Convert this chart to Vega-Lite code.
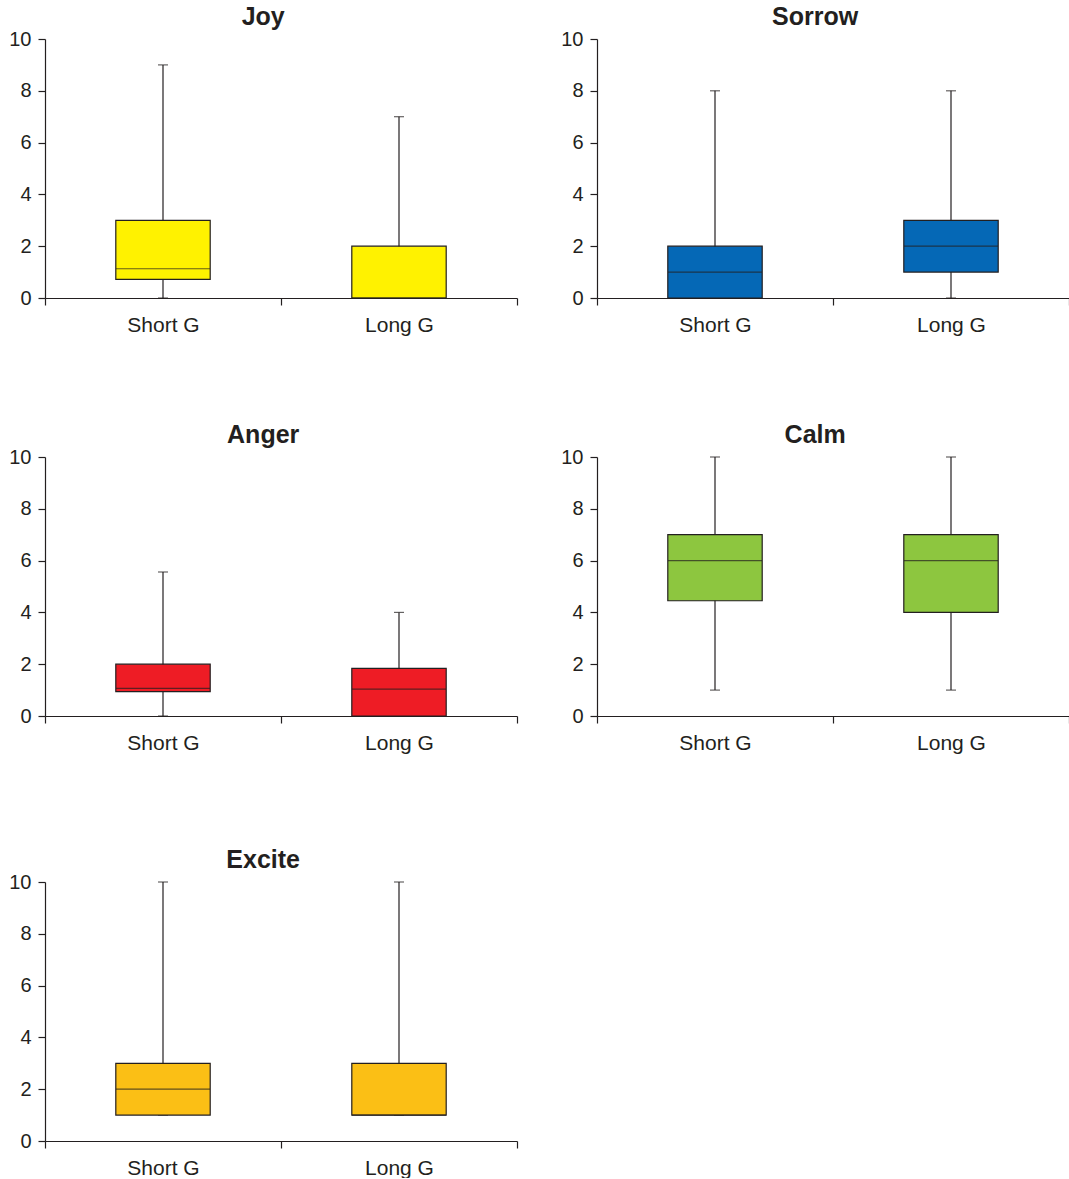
{
  "$schema": "https://vega.github.io/schema/vega-lite/v6.json",
  "padding": {"left": 8, "top": 5, "right": 0, "bottom": 0},
  "background": "white",
  "datasets": {
    "box": [
      {"emotion": "Joy", "group": "Short G", "min": 0, "q1": 0.72, "median": 1.13, "q3": 3, "max": 9},
      {"emotion": "Joy", "group": "Long G", "min": 0, "q1": 0, "median": 0, "q3": 2, "max": 7},
      {"emotion": "Sorrow", "group": "Short G", "min": 0, "q1": 0, "median": 1, "q3": 2, "max": 8},
      {"emotion": "Sorrow", "group": "Long G", "min": 0, "q1": 1, "median": 2, "q3": 3, "max": 8},
      {"emotion": "Anger", "group": "Short G", "min": 0, "q1": 0.94, "median": 1.07, "q3": 2, "max": 5.56},
      {"emotion": "Anger", "group": "Long G", "min": 0, "q1": 0, "median": 1.04, "q3": 1.84, "max": 4},
      {"emotion": "Calm", "group": "Short G", "min": 1, "q1": 4.45, "median": 6, "q3": 7, "max": 10},
      {"emotion": "Calm", "group": "Long G", "min": 1, "q1": 4, "median": 6, "q3": 7, "max": 10},
      {"emotion": "Excite", "group": "Short G", "min": 1, "q1": 1, "median": 2, "q3": 3, "max": 10},
      {"emotion": "Excite", "group": "Long G", "min": 1, "q1": 1, "median": 1, "q3": 3, "max": 10}
    ]
  },
  "vconcat": [
    {
      "vconcat": [
        {
          "hconcat": [
            {
              "data": {"name": "box"}, "transform": [{"filter": "datum.emotion === 'Joy'"}],
              "title": "Joy", "width": 472, "height": 259,
              "encoding": {
                "x": {"field": "group", "type": "nominal", "sort": ["Short G", "Long G"], "scale": {"paddingInner": 0, "paddingOuter": 0}, "axis": {"title": null, "labelAngle": 0, "tickBand": "extent"}}
              },
              "layer": [
                {"mark": {"type": "rule", "color": "#231F20", "strokeWidth": 1.2}, "encoding": {"y": {"field": "min", "type": "quantitative", "scale": {"domain": [0, 10], "nice": false}, "axis": {"title": null, "values": [0, 2, 4, 6, 8, 10]}}, "y2": {"field": "max"}}},
                {"mark": {"type": "tick", "color": "#231F20", "size": 10, "thickness": 1.2}, "encoding": {"y": {"field": "max", "type": "quantitative"}}},
                {"mark": {"type": "tick", "color": "#231F20", "size": 10, "thickness": 1.2}, "encoding": {"y": {"field": "min", "type": "quantitative"}}},
                {"mark": {"type": "bar", "stroke": "#231F20", "strokeWidth": 1.2, "width": {"band": 0.4}}, "encoding": {"y": {"field": "q1", "type": "quantitative"}, "y2": {"field": "q3"}, "color": {"field": "emotion", "type": "nominal", "scale": {"domain": ["Joy", "Sorrow", "Anger", "Calm", "Excite"], "range": ["#FFF200", "#0568B6", "#EE1C25", "#8DC63F", "#FBBF15"]}, "legend": null}}},
                {"mark": {"type": "tick", "color": "#231F20", "size": 94, "thickness": 1.2}, "encoding": {"y": {"field": "median", "type": "quantitative"}}}
              ]
            },
            {
              "data": {"name": "box"}, "transform": [{"filter": "datum.emotion === 'Sorrow'"}],
              "title": "Sorrow", "width": 472, "height": 259,
              "encoding": {
                "x": {"field": "group", "type": "nominal", "sort": ["Short G", "Long G"], "scale": {"paddingInner": 0, "paddingOuter": 0}, "axis": {"title": null, "labelAngle": 0, "tickBand": "extent"}}
              },
              "layer": [
                {"mark": {"type": "rule", "color": "#231F20", "strokeWidth": 1.2}, "encoding": {"y": {"field": "min", "type": "quantitative", "scale": {"domain": [0, 10], "nice": false}, "axis": {"title": null, "values": [0, 2, 4, 6, 8, 10]}}, "y2": {"field": "max"}}},
                {"mark": {"type": "tick", "color": "#231F20", "size": 10, "thickness": 1.2}, "encoding": {"y": {"field": "max", "type": "quantitative"}}},
                {"mark": {"type": "tick", "color": "#231F20", "size": 10, "thickness": 1.2}, "encoding": {"y": {"field": "min", "type": "quantitative"}}},
                {"mark": {"type": "bar", "stroke": "#231F20", "strokeWidth": 1.2, "width": {"band": 0.4}}, "encoding": {"y": {"field": "q1", "type": "quantitative"}, "y2": {"field": "q3"}, "color": {"field": "emotion", "type": "nominal", "scale": {"domain": ["Joy", "Sorrow", "Anger", "Calm", "Excite"], "range": ["#FFF200", "#0568B6", "#EE1C25", "#8DC63F", "#FBBF15"]}, "legend": null}}},
                {"mark": {"type": "tick", "color": "#231F20", "size": 94, "thickness": 1.2}, "encoding": {"y": {"field": "median", "type": "quantitative"}}}
              ]
            }
          ],
          "spacing": 42
        },
        {
          "hconcat": [
            {
              "data": {"name": "box"}, "transform": [{"filter": "datum.emotion === 'Anger'"}],
              "title": "Anger", "width": 472, "height": 259,
              "encoding": {
                "x": {"field": "group", "type": "nominal", "sort": ["Short G", "Long G"], "scale": {"paddingInner": 0, "paddingOuter": 0}, "axis": {"title": null, "labelAngle": 0, "tickBand": "extent"}}
              },
              "layer": [
                {"mark": {"type": "rule", "color": "#231F20", "strokeWidth": 1.2}, "encoding": {"y": {"field": "min", "type": "quantitative", "scale": {"domain": [0, 10], "nice": false}, "axis": {"title": null, "values": [0, 2, 4, 6, 8, 10]}}, "y2": {"field": "max"}}},
                {"mark": {"type": "tick", "color": "#231F20", "size": 10, "thickness": 1.2}, "encoding": {"y": {"field": "max", "type": "quantitative"}}},
                {"mark": {"type": "tick", "color": "#231F20", "size": 10, "thickness": 1.2}, "encoding": {"y": {"field": "min", "type": "quantitative"}}},
                {"mark": {"type": "bar", "stroke": "#231F20", "strokeWidth": 1.2, "width": {"band": 0.4}}, "encoding": {"y": {"field": "q1", "type": "quantitative"}, "y2": {"field": "q3"}, "color": {"field": "emotion", "type": "nominal", "scale": {"domain": ["Joy", "Sorrow", "Anger", "Calm", "Excite"], "range": ["#FFF200", "#0568B6", "#EE1C25", "#8DC63F", "#FBBF15"]}, "legend": null}}},
                {"mark": {"type": "tick", "color": "#231F20", "size": 94, "thickness": 1.2}, "encoding": {"y": {"field": "median", "type": "quantitative"}}}
              ]
            },
            {
              "data": {"name": "box"}, "transform": [{"filter": "datum.emotion === 'Calm'"}],
              "title": "Calm", "width": 472, "height": 259,
              "encoding": {
                "x": {"field": "group", "type": "nominal", "sort": ["Short G", "Long G"], "scale": {"paddingInner": 0, "paddingOuter": 0}, "axis": {"title": null, "labelAngle": 0, "tickBand": "extent"}}
              },
              "layer": [
                {"mark": {"type": "rule", "color": "#231F20", "strokeWidth": 1.2}, "encoding": {"y": {"field": "min", "type": "quantitative", "scale": {"domain": [0, 10], "nice": false}, "axis": {"title": null, "values": [0, 2, 4, 6, 8, 10]}}, "y2": {"field": "max"}}},
                {"mark": {"type": "tick", "color": "#231F20", "size": 10, "thickness": 1.2}, "encoding": {"y": {"field": "max", "type": "quantitative"}}},
                {"mark": {"type": "tick", "color": "#231F20", "size": 10, "thickness": 1.2}, "encoding": {"y": {"field": "min", "type": "quantitative"}}},
                {"mark": {"type": "bar", "stroke": "#231F20", "strokeWidth": 1.2, "width": {"band": 0.4}}, "encoding": {"y": {"field": "q1", "type": "quantitative"}, "y2": {"field": "q3"}, "color": {"field": "emotion", "type": "nominal", "scale": {"domain": ["Joy", "Sorrow", "Anger", "Calm", "Excite"], "range": ["#FFF200", "#0568B6", "#EE1C25", "#8DC63F", "#FBBF15"]}, "legend": null}}},
                {"mark": {"type": "tick", "color": "#231F20", "size": 94, "thickness": 1.2}, "encoding": {"y": {"field": "median", "type": "quantitative"}}}
              ]
            }
          ],
          "spacing": 42
        }
      ],
      "spacing": 88
    },
    {
      "data": {"name": "box"}, "transform": [{"filter": "datum.emotion === 'Excite'"}],
      "title": "Excite", "width": 472, "height": 259,
      "encoding": {
        "x": {"field": "group", "type": "nominal", "sort": ["Short G", "Long G"], "scale": {"paddingInner": 0, "paddingOuter": 0}, "axis": {"title": null, "labelAngle": 0, "tickBand": "extent"}}
      },
      "layer": [
        {"mark": {"type": "rule", "color": "#231F20", "strokeWidth": 1.2}, "encoding": {"y": {"field": "min", "type": "quantitative", "scale": {"domain": [0, 10], "nice": false}, "axis": {"title": null, "values": [0, 2, 4, 6, 8, 10]}}, "y2": {"field": "max"}}},
        {"mark": {"type": "tick", "color": "#231F20", "size": 10, "thickness": 1.2}, "encoding": {"y": {"field": "max", "type": "quantitative"}}},
        {"mark": {"type": "tick", "color": "#231F20", "size": 10, "thickness": 1.2}, "encoding": {"y": {"field": "min", "type": "quantitative"}}},
        {"mark": {"type": "bar", "stroke": "#231F20", "strokeWidth": 1.2, "width": {"band": 0.4}}, "encoding": {"y": {"field": "q1", "type": "quantitative"}, "y2": {"field": "q3"}, "color": {"field": "emotion", "type": "nominal", "scale": {"domain": ["Joy", "Sorrow", "Anger", "Calm", "Excite"], "range": ["#FFF200", "#0568B6", "#EE1C25", "#8DC63F", "#FBBF15"]}, "legend": null}}},
        {"mark": {"type": "tick", "color": "#231F20", "size": 94, "thickness": 1.2}, "encoding": {"y": {"field": "median", "type": "quantitative"}}}
      ]
    }
  ],
  "spacing": 95,
  "config": {
    "font": "Liberation Sans",
    "view": {"stroke": null},
    "title": {"fontSize": 25, "fontWeight": "bold", "color": "#231F20", "offset": -1, "anchor": "middle", "frame": "bounds"},
    "axis": {
      "labelFont": "Liberation Sans", "labelColor": "#231F20", "domainColor": "#231F20", "tickColor": "#231F20",
      "tickSize": 7, "grid": false, "domainWidth": 1.2, "tickWidth": 1.2
    },
    "axisX": {"labelFontSize": 21, "labelPadding": 9},
    "axisY": {"labelFontSize": 20, "labelPadding": 7}
  }
}
